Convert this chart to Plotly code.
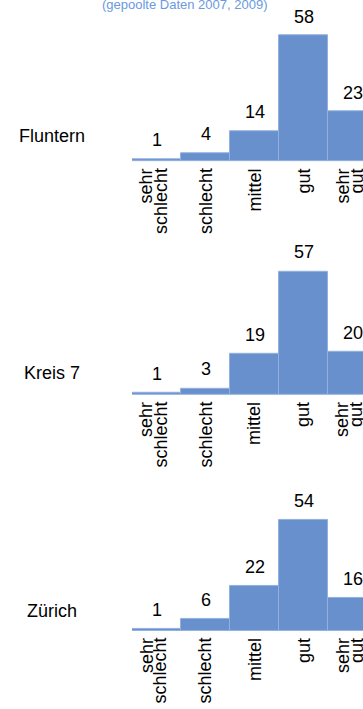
import plotly.graph_objects as go

# Data
categories = ["sehr schlecht", "schlecht", "mittel", "gut", "sehr gut"]
regions = ["Fluntern", "Kreis 7", "Zürich"]
fluntern = [1, 4, 14, 58, 23]
kreis7 = [1, 3, 19, 57, 20]
zuerich = [1, 6, 22, 54, 16]
title_text = "(gepoolte Daten 2007, 2009)"

series = [fluntern, kreis7, zuerich]

bar_colour = "#6790cc"
edge_colour = "#92b1e0"
font_family = "Liberation Sans, Arial, sans-serif"

# y domains (paper fractions) for each row, top to bottom
domains = [[0.7722, 0.9559], [0.4429, 0.6265], [0.1100, 0.2836]]
label_y = [0.808, 0.474, 0.1386]

fig = go.Figure()
annotations = []

for i, (name, values) in enumerate(zip(regions, series)):
    suffix = "" if i == 0 else str(i + 1)
    xref, yref = "x" + suffix, "y" + suffix
    fig.add_trace(go.Bar(x=categories, y=values,
                         marker=dict(color=bar_colour, line=dict(color=edge_colour, width=1)),
                         xaxis=xref, yaxis=yref,
                         showlegend=False, hoverinfo="x+y"))

    # value labels above bars
    for cat, val in zip(categories, values):
        annotations.append(dict(x=cat, y=val, xref=xref, yref=yref,
                                text=str(val), showarrow=False, yanchor="bottom",
                                yshift=7, font=dict(size=18, color="#000000")))

    # category labels, rotated, one annotation per line (tight line spacing)
    for cat in categories:
        lines = cat.split(" ")
        shifts = [0] if len(lines) == 1 else [-10, 4]
        for line, xs in zip(lines, shifts):
            annotations.append(dict(x=cat, y=0, xref=xref, yref=yref, text=line,
                                    textangle=-90, showarrow=False,
                                    xanchor="center", yanchor="top", xshift=xs, yshift=-5,
                                    font=dict(size=18, color="#000000")))

    # row label on the left
    annotations.append(dict(x=-0.346, y=label_y[i], xref="paper", yref="paper",
                            text=name, showarrow=False, xanchor="center", yanchor="middle",
                            font=dict(size=18, color="#000000")))

    fig.layout["xaxis" + suffix] = dict(domain=[0, 1], anchor=yref,
                                        range=[-0.5, 4.214], showticklabels=False,
                                        showgrid=False, zeroline=False, showline=False,
                                        ticks="")
    fig.layout["yaxis" + suffix] = dict(domain=domains[i], anchor=xref,
                                        range=[0, 60], visible=False)

annotations.append(dict(x=0.229, y=1.0, xref="paper", yref="paper", text=title_text,
                        showarrow=False, xanchor="center", yanchor="middle", yshift=-4,
                        font=dict(size=13, color="#6a9ae0")))

fig.update_layout(width=363, height=709, bargap=0,
                  margin=dict(l=132, r=0, t=0, b=0),
                  paper_bgcolor="white", plot_bgcolor="white",
                  font=dict(family=font_family),
                  annotations=annotations)

fig.write_html("out.html", config={"displayModeBar": False},
               post_script="document.body.style.margin='0';")
